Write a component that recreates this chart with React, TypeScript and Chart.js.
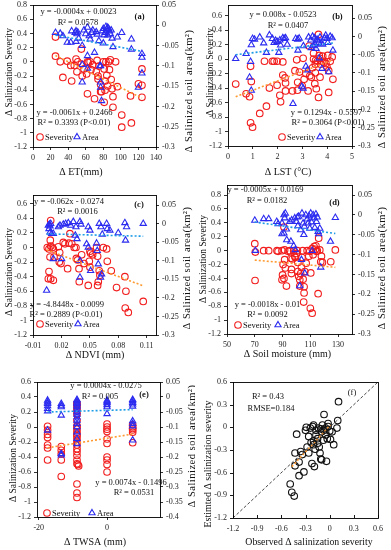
import React, { useEffect, useRef } from "react";
import { Chart, registerables } from "chart.js";
Chart.register(...registerables);

type P = [number, number];

// ---------------- DATA ----------------
// (a) ΔET
const etSeverity: P[] = [[25.6,0.35],[25.6,0.08],[31,0],[34,-0.22],[39,0.01],[43,-0.05],[44,-0.27],[47,-0.05],[49,0.04],[50,-0.14],[51,0],[55,0.18],[55,-0.03],[56,-0.2],[58,-0.1],[61,-0.17],[62,-0.45],[62,0],[63,-0.01],[65,0],[66,-0.11],[68,-0.04],[70,-0.52],[72,-0.14],[73,0.02],[74,-0.2],[74,-0.24],[75,-0.06],[77,-0.42],[77,-0.32],[78,-0.42],[80,0],[81,-0.1],[82,-0.27],[82,-0.4],[81,-0.57],[83,0],[84,-0.19],[85,-0.34],[86,0],[87,-0.11],[88,0.03],[89,-0.25],[90,-0.38],[91,-0.49],[91,-0.64],[94,0],[96,-0.35],[101,-0.75],[101,-0.92],[112,-0.86],[111,-0.48],[120,-0.31],[124,-0.33],[124,-0.1],[124,-0.5]];
const etArea: P[] = [[25.6,-0.018],[31,-0.02],[34,-0.026],[39,-0.042],[43,-0.042],[44,-0.014],[48,-0.018],[49,-0.04],[49,-0.014],[50,-0.021],[51,-0.017],[52,-0.032],[56,-0.05],[56,-0.097],[56,-0.14],[58,-0.012],[60,-0.021],[62,-0.075],[62,-0.106],[62,-0.005],[64,-0.026],[65,-0.034],[67,-0.018],[68,-0.012],[70,-0.067],[72,-0.016],[73,-0.022],[75,-0.038],[76,-0.1],[77,-0.14],[77,-0.153],[78,-0.186],[79,-0.014],[80,-0.044],[80,-0.008],[81,-0.024],[82,-0.018],[83,-0.003],[84,-0.01],[85,-0.024],[85,-0.005],[86,-0.008],[87,-0.014],[88,-0.021],[89,-0.012],[90,-0.032],[91,-0.053],[96,-0.029],[101,-0.018],[112,-0.034],[112,-0.059],[120,-0.153],[124,-0.07],[124,-0.079],[124,-0.118],[77,-0.1]];
const etSevFit: P[] = [[25.6,0.09],[124,-0.51]];
const etAreaFit: P[] = [[25.6,-0.024],[124,-0.064]];

// (b) ΔLST
const lstSeverity: P[] = [[0.31,-0.345],[0.73,-0.48],[0.87,-0.52],[0.91,-0.1],[0.94,-0.31],[0.91,-0.88],[0.99,-0.94],[1.28,-0.75],[1.47,-0.03],[1.55,-0.65],[1.67,-0.4],[1.79,-0.03],[1.86,-0.03],[1.98,-0.03],[1.98,-0.36],[2.09,-0.5],[2.12,-0.59],[2.21,-0.04],[2.21,-0.22],[2.3,-0.26],[2.32,-0.44],[2.32,-0.33],[2.6,-0.44],[2.7,-0.16],[2.77,-0.01],[2.81,-0.32],[2.8,-0.43],[2.88,-0.18],[2.99,-0.37],[3.03,0.01],[3.07,-0.28],[3.14,-0.2],[3.23,-0.44],[3.3,-0.23],[3.27,0.18],[3.36,-0.25],[3.41,-0.12],[3.45,0],[3.45,0.08],[3.5,-0.34],[3.52,-0.19],[3.52,-0.07],[3.56,-0.41],[3.61,-0.03],[3.65,0.34],[3.65,-0.53],[3.68,0.05],[3.71,-0.25],[3.74,-0.07],[3.79,-0.03],[3.87,-0.05],[3.95,-0.06],[3.99,-0.11],[4.02,0.05],[4.06,-0.16],[4.06,-0.46],[4.12,-0.03],[4.2,0.03],[4.23,-0.28],[3.82,0.04],[3.53,-0.02],[3.7,0.01]];
const lstArea: P[] = [[0.31,-0.061],[0.73,-0.047],[0.91,-0.069],[0.87,-0.112],[0.94,-0.148],[0.94,-0.023],[0.99,-0.006],[1.07,-0.008],[1.28,-0.002],[1.44,-0.018],[1.55,-0.044],[1.67,0.004],[1.79,-0.006],[1.86,-0.017],[1.92,-0.011],[1.98,-0.014],[2.05,-0.044],[2.09,-0.01],[2.12,-0.024],[2.21,-0.004],[2.27,-0.006],[2.32,-0.004],[2.39,-0.022],[2.62,-0.184],[2.73,-0.006],[2.81,-0.008],[2.87,-0.005],[2.82,-0.038],[2.98,-0.137],[3.03,-0.142],[3.04,-0.026],[3.14,-0.082],[3.2,-0.092],[3.25,-0.002],[3.34,-0.01],[3.36,-0.031],[3.41,0],[3.44,-0.026],[3.49,-0.004],[3.52,-0.022],[3.55,-0.033],[3.59,-0.008],[3.63,-0.011],[3.65,-0.017],[3.68,-0.059],[3.71,-0.002],[3.75,-0.019],[3.79,-0.088],[3.89,-0.004],[3.94,0.003],[3.99,-0.006],[4.02,-0.017],[4.06,-0.097],[4.12,0],[4.2,-0.004],[4.23,-0.038],[3.82,-0.022]];
const lstSevFit: P[] = [[0.31,-0.52],[4.23,-0.012]];
const lstAreaFit: P[] = [[0.31,-0.05],[4.23,-0.018]];

// (c) ΔNDVI
const ndviSeverity: P[] = [[0.0087,0.37],[0.0083,0.1],[0.0051,0],[0.0069,-0.02],[0.0087,0.02],[0.0104,0],[0.0115,-0.02],[0.008,-0.13],[0.0122,-0.13],[0.0182,-0.07],[0.0178,-0.2],[0.0069,-0.33],[0.0062,-0.43],[0.0087,-0.43],[0.0115,-0.45],[0.0168,0.01],[0.022,0.07],[0.0266,-0.29],[0.029,0.19],[0.0238,0.05],[0.028,0.06],[0.031,0.05],[0.0336,0],[0.0354,0],[0.0358,-0.15],[0.0372,-0.17],[0.0386,-0.29],[0.0389,-0.47],[0.0414,-0.1],[0.0484,-0.52],[0.0495,-0.19],[0.0502,-0.27],[0.0509,-0.08],[0.0502,-0.05],[0.0572,0],[0.0583,-0.12],[0.0583,-0.52],[0.059,-0.47],[0.06,-0.32],[0.0607,-0.38],[0.0643,0],[0.0678,-0.02],[0.0685,-0.19],[0.0727,-0.32],[0.0783,-0.55],[0.0871,-0.4],[0.0882,-0.6],[0.0875,-0.83],[0.0907,-0.89],[0.1065,-0.74],[0.0195,-0.22],[0.044,-0.22],[0.053,-0.1]];
const ndviArea: P[] = [[0.0044,-0.18],[0.0062,-0.005],[0.0073,-0.002],[0.008,-0.007],[0.0087,0],[0.0069,-0.014],[0.008,-0.023],[0.0097,-0.027],[0.0115,-0.027],[0.0115,-0.095],[0.0203,-0.095],[0.0168,-0.009],[0.0185,-0.005],[0.022,-0.002],[0.0245,0],[0.0273,0.002],[0.0298,-0.005],[0.0326,0.005],[0.0354,-0.009],[0.0396,0.005],[0.0407,-0.002],[0.0347,-0.032],[0.0365,-0.041],[0.0396,-0.145],[0.0396,-0.1],[0.0484,-0.009],[0.0502,-0.018],[0.0467,-0.055],[0.0484,-0.064],[0.0509,-0.127],[0.0572,-0.053],[0.0579,-0.073],[0.059,-0.109],[0.06,0],[0.0618,-0.009],[0.0632,-0.029],[0.0625,-0.136],[0.0614,-0.145],[0.0678,0],[0.0685,-0.014],[0.0713,-0.018],[0.0801,-0.025],[0.0871,0.002],[0.0878,-0.045],[0.0889,-0.009],[0.1065,0]];
const ndviSevFit: P[] = [[0.0044,-0.031],[0.1065,-0.526]];
const ndviAreaFit: P[] = [[0.0044,-0.0277],[0.1065,-0.034]];

// (d) ΔSoil moisture
const smSeverity: P[] = [[70,0.1],[70.4,-0.02],[70.2,-0.43],[76.4,0],[80,0],[86,0],[86.8,-0.01],[89.6,0],[91.5,0.01],[91.5,-0.13],[90.4,-0.2],[90,-0.35],[89.6,-0.42],[91,-0.4],[92,-0.25],[92.8,-0.51],[94,-0.01],[95.2,0],[96,-0.11],[96.4,-0.27],[96.4,-0.33],[97,-0.12],[98,0],[98.8,-0.08],[99.2,-0.1],[100,-0.04],[100.7,0],[101,-0.17],[101,-0.3],[101.6,-0.37],[102.4,-0.42],[102.4,-0.51],[103,-0.33],[103.6,-0.24],[104,-0.1],[104.5,0],[104.8,-0.41],[105.5,-0.52],[106,-0.3],[105.5,-0.61],[105.2,-0.74],[107,-0.18],[107.7,0],[108.9,-0.08],[109.6,-0.01],[110.3,-0.32],[110,-0.83],[111.3,-0.9],[111.3,0.03],[112,-0.06],[112.7,0.06],[113.7,0.02],[114,0.07],[114.4,-0.01],[115,0],[115.6,-0.62],[116,0.18],[116.8,0.01],[117.5,-0.16],[118.7,-0.17],[124.7,-0.16],[128,0.01],[118,-0.08],[91,0.34]];
const smArea: P[] = [[70,-0.014],[70.4,-0.09],[76.4,-0.01],[80,-0.01],[85.8,-0.017],[86.8,-0.023],[89.6,-0.021],[89.6,-0.048],[91,0],[91.5,-0.008],[92,0.004],[92.8,-0.036],[93,-0.063],[91,-0.046],[95.2,-0.017],[96,-0.067],[96.6,-0.013],[98,-0.078],[98.8,-0.008],[99.2,-0.088],[100,-0.017],[100.7,-0.006],[101,-0.028],[101.6,-0.004],[102.4,-0.179],[103,-0.038],[103.6,-0.113],[104,0.004],[104.8,-0.021],[105.3,-0.05],[105.7,-0.029],[106,-0.147],[106.7,0],[107.7,-0.011],[108.4,-0.021],[109,-0.003],[109.6,-0.034],[110.3,0.004],[110.8,-0.018],[111.3,-0.09],[112,0],[112.7,-0.008],[113.2,-0.032],[114,0.002],[114.4,-0.017],[115,-0.006],[115.6,-0.042],[116,-0.048],[116.8,-0.034],[117.5,-0.132],[124.5,-0.067],[128,-0.007]];
const smSevFit: P[] = [[70,-0.136],[128,-0.24]];
const smAreaFit: P[] = [[70,-0.018],[128,-0.047]];

// (e) ΔTWSA
const twsaSeverity: P[] = [[-17.4,0.01],[-17.4,-0.04],[-17.4,-0.1],[-17.4,-0.14],[-17.4,-0.24],[-17.4,-0.28],[-17.4,-0.44],[-13.4,-0.26],[-13.4,-0.31],[-13.4,-0.36],[-13.4,-0.44],[-13.4,-0.66],[-8.8,0.32],[-8.8,0.3],[-8.8,0.28],[-8.8,0.24],[-8.8,0.21],[-8.8,0.17],[-8.8,0.09],[-8.8,0.02],[-8.8,0],[-8.8,-0.03],[-8.8,-0.07],[-8.8,-0.1],[-8.8,-0.12],[-8.8,-0.16],[-8.8,-0.2],[-8.8,-0.24],[-8.8,-0.29],[-8.8,-0.33],[-8.8,-0.38],[-8.8,-0.44],[-8.8,-0.49],[-8.5,-0.5],[-8.3,-0.52],[-8.8,-0.76],[-8.8,-0.88],[-8.8,-0.94],[0,0.04],[0,0],[0,-0.03],[0,-0.06],[0,-0.16],[0,-0.22],[0,-0.4],[0,-0.44],[0,-0.5],[0,-0.6],[7.5,0.03],[7.5,0],[7.5,-0.02],[7.5,-0.04],[7.5,-0.07],[7.5,-0.21]];
const twsaArea: P[] = [[-17.4,-0.011],[-17.4,-0.017],[-17.4,-0.022],[-17.4,-0.03],[-17.4,-0.039],[-17.4,-0.047],[-17.4,-0.111],[-13.4,-0.022],[-13.4,-0.028],[-13.4,-0.033],[-13.4,-0.061],[-13.4,-0.189],[-13.4,-0.194],[-8.8,-0.009],[-8.8,-0.013],[-8.8,-0.018],[-8.8,-0.022],[-8.8,-0.028],[-8.8,-0.033],[-8.8,-0.042],[-8.8,-0.05],[-8.8,-0.058],[-8.8,-0.067],[-8.8,-0.078],[-8.8,-0.089],[-8.8,-0.1],[-8.8,-0.117],[-8.8,-0.139],[-8.8,-0.156],[0,-0.011],[0,-0.016],[0,-0.02],[0,-0.026],[0,-0.033],[0,-0.056],[7.5,-0.009],[7.5,-0.013],[7.5,-0.019],[7.5,-0.024],[7.5,-0.031],[7.5,-0.08],[7.5,-0.089],[7.5,-0.097],[7.5,-0.144]];
const twsaSevFit: P[] = [[-17.4,-0.278],[7.5,-0.094]];
const twsaAreaFit: P[] = [[-17.4,-0.05],[7.5,-0.042]];

// (f) observed vs estimated
const obsEst: P[] = [[-0.49,-0.75],[-0.47,-0.86],[-0.44,-0.91],[-0.43,-0.51],[-0.43,-0.34],[-0.41,-0.09],[-0.38,-0.46],[-0.38,-0.64],[-0.36,-0.32],[-0.34,-0.36],[-0.32,-0.59],[-0.3,-0.04],[-0.29,0],[-0.28,-0.26],[-0.26,-0.34],[-0.26,-0.12],[-0.24,-0.01],[-0.23,-0.2],[-0.22,-0.48],[-0.21,0.01],[-0.2,-0.18],[-0.2,0.03],[-0.19,-0.52],[-0.18,-0.29],[-0.17,-0.1],[-0.17,-0.04],[-0.15,-0.21],[-0.14,-0.01],[-0.13,-0.26],[-0.12,-0.34],[-0.11,-0.42],[-0.1,-0.06],[-0.1,-0.43],[-0.09,0.03],[-0.08,-0.17],[-0.07,0.17],[-0.07,-0.04],[-0.05,-0.1],[-0.05,-0.01],[-0.04,-0.45],[-0.03,-0.15],[-0.02,0.05],[-0.02,0.01],[0,-0.05],[0.01,-0.16],[0.03,-0.06],[0.05,-0.23],[0.09,-0.01],[0.1,0.09],[0.11,0.34],[-0.15,-0.15],[-0.2,-0.23],[-0.11,-0.02]];
const obsEstFit: P[] = [[-0.47,-0.52],[0.01,0.03]];
const oneToOne: P[] = [[-1.2,-1.2],[0.6,0.6]];

// tick values
const ticksSev8 = [-1.2,-1,-0.8,-0.6,-0.4,-0.2,0,0.2,0.4,0.6,0.8];
const ticksSev6 = [-1.2,-1,-0.8,-0.6,-0.4,-0.2,0,0.2,0.4,0.6];
const ticksArea3 = [-0.3,-0.25,-0.2,-0.15,-0.1,-0.05,0,0.05];
const ticksArea4 = [-0.4,-0.35,-0.3,-0.25,-0.2,-0.15,-0.1,-0.05,0,0.05];
const ticksET = [0,20,40,60,80,100,120,140];
const ticksLST = [0,1,2,3,4,5];
const ticksNDVI = [-0.01,0.02,0.05,0.08,0.11];
const ticksSM = [50,70,90,110,130];
const ticksTWSA = [-20,0];
const ticksObs = [-1.2,-0.9,-0.6,-0.3,0,0.3,0.6];

// ---------------- RENDERING ----------------
const FONT = "'Liberation Serif', 'Times New Roman', serif";
const RED = "#f21d1d";
const BLUE = "#2b2bf0";
const ORANGE = "#ff9a30";
const LBLUE = "#1c9be6";

interface Txt { t: string; x: number; y: number; bold?: boolean }
interface AxisCfg { min: number; max: number; ticks: number[] }
interface PanelCfg {
  pos: { left: number; top: number; w: number; h: number };
  area: { l: number; t: number; r: number; b: number };
  x: AxisCfg; y: AxisCfg; y2?: AxisCfg;
  xTitle: { t: string; x: number; y: number; size?: number };
  yTitle: { t: string; x: number; cy: number; size?: number };
  y2Title?: { t: string; x: number; cy: number };
  texts: Txt[];
  legend?: { y: number; c1: number; c2: number };
  datasets: any[];
  inwardTicks?: boolean;
}

const fmt = (v: number) => String(Math.round(v * 1000) / 1000);

function makeAxis(a: AxisCfg, extra: any) {
  return {
    type: "linear",
    min: a.min,
    max: a.max,
    afterBuildTicks: (s: any) => { s.ticks = a.ticks.map((v) => ({ value: v })); },
    ticks: {
      autoSkip: false, maxRotation: 0, minRotation: 0, padding: 3,
      font: { family: FONT, size: 8 }, color: "#222",
      callback: (v: any) => fmt(Number(v)),
    },
    grid: { display: true, drawOnChartArea: false, drawTicks: true, tickLength: 3, color: "#000", lineWidth: 0.8 },
    border: { display: false },
    ...extra,
  };
}

function scatterSet(data: P[], color: string, style: string, axis: string) {
  return {
    data: data.map(([x, y]) => ({ x, y })),
    yAxisID: axis,
    pointStyle: style,
    pointRadius: style === "triangle" ? 3.6 : 3.3,
    pointBorderWidth: 1.1,
    borderColor: color,
    backgroundColor: "rgba(0,0,0,0)",
    showLine: false,
  };
}
function lineSet(data: P[], color: string, axis: string, dash: number[], width = 1.6) {
  return {
    data: data.map(([x, y]) => ({ x, y })),
    yAxisID: axis,
    showLine: true,
    pointRadius: 0,
    borderColor: color,
    borderWidth: width,
    borderDash: dash,
    fill: false,
  };
}

function decorPlugin(cfg: PanelCfg) {
  return {
    id: "decor",
    afterDraw(chart: any) {
      const ctx: CanvasRenderingContext2D = chart.ctx;
      const a = chart.chartArea;
      ctx.save();
      ctx.strokeStyle = "#000";
      ctx.lineWidth = 0.9;
      ctx.strokeRect(Math.round(a.left) + 0.5, Math.round(a.top) + 0.5, Math.round(a.right - a.left), Math.round(a.bottom - a.top));
      if (cfg.inwardTicks) {
        const sx = chart.scales.x, sy = chart.scales.y;
        ctx.beginPath();
        for (const v of cfg.x.ticks) {
          const px = Math.round(sx.getPixelForValue(v)) + 0.5;
          ctx.moveTo(px, a.bottom); ctx.lineTo(px, a.bottom - 3);
        }
        for (const v of cfg.y.ticks) {
          const py = Math.round(sy.getPixelForValue(v)) + 0.5;
          ctx.moveTo(a.left, py); ctx.lineTo(a.left - 3, py);
        }
        ctx.stroke();
      }
      ctx.fillStyle = "#111";
      ctx.textBaseline = "middle";
      ctx.textAlign = "center";
      for (const t of cfg.texts) {
        ctx.font = `${t.bold ? "bold " : ""}8.5px ${FONT}`;
        ctx.fillText(t.t, t.x, t.y);
      }
      // axis titles
      ctx.font = `${cfg.xTitle.size || 10}px ${FONT}`;
      ctx.fillText(cfg.xTitle.t, cfg.xTitle.x, cfg.xTitle.y);
      ctx.save();
      ctx.font = `${cfg.yTitle.size || 9.5}px ${FONT}`;
      ctx.translate(cfg.yTitle.x, cfg.yTitle.cy);
      ctx.rotate(-Math.PI / 2);
      ctx.fillText(cfg.yTitle.t, 0, 0);
      ctx.restore();
      if (cfg.y2Title) {
        ctx.save();
        ctx.font = `10.5px ${FONT}`;
        (ctx as any).letterSpacing = "0.5px";
        ctx.translate(cfg.y2Title.x, cfg.y2Title.cy);
        ctx.rotate(-Math.PI / 2);
        ctx.fillText(cfg.y2Title.t, 0, 0);
        ctx.restore();
      }
      // legend
      if (cfg.legend) {
        const { y, c1, c2 } = cfg.legend;
        ctx.lineWidth = 1.1;
        ctx.strokeStyle = RED;
        ctx.beginPath(); ctx.arc(c1, y, 3.3, 0, Math.PI * 2); ctx.stroke();
        ctx.strokeStyle = BLUE;
        const r = 3.6;
        ctx.beginPath();
        for (let i = 0; i < 3; i++) {
          const ang = i * (2 * Math.PI / 3);
          const px = c2 + Math.sin(ang) * r, py = y - Math.cos(ang) * r;
          if (i === 0) ctx.moveTo(px, py); else ctx.lineTo(px, py);
        }
        ctx.closePath(); ctx.stroke();
        ctx.font = `8.5px ${FONT}`;
        ctx.textAlign = "left";
        ctx.fillStyle = "#111";
        ctx.fillText("Severity", c1 + 5, y + 0.5);
        ctx.fillText("Area", c2 + 5, y + 0.5);
      }
      ctx.restore();
    },
  };
}

function buildConfig(cfg: PanelCfg): any {
  const { w, h } = cfg.pos;
  const ar = cfg.area;
  const scales: any = {
    x: makeAxis(cfg.x, {
      position: "bottom",
      afterFit: (s: any) => { s.height = h - ar.b; s.paddingLeft = 0; s.paddingRight = 0; },
    }),
    y: makeAxis(cfg.y, {
      position: "left",
      afterFit: (s: any) => { s.width = ar.l; s.paddingTop = 0; s.paddingBottom = 0; },
    }),
  };
  if (cfg.inwardTicks) {
    scales.x.grid.drawTicks = false;
    scales.y.grid.drawTicks = false;
    scales.x.ticks.padding = 6;
    scales.y.ticks.padding = 6;
  }
  if (cfg.y2) {
    scales.y2 = makeAxis(cfg.y2, {
      position: "right",
      afterFit: (s: any) => { s.width = w - ar.r; s.paddingTop = 0; s.paddingBottom = 0; },
    });
  }
  return {
    type: "scatter",
    data: { datasets: cfg.datasets },
    options: {
      responsive: false,
      animation: false,
      devicePixelRatio: 1,
      layout: { padding: { left: 0, top: ar.t, right: cfg.y2 ? 0 : w - ar.r, bottom: 0 } },
      plugins: { legend: { display: false }, tooltip: { enabled: false } },
      events: [],
      scales,
    },
    plugins: [decorPlugin(cfg)],
  };
}

function Panel({ cfg }: { cfg: PanelCfg }) {
  const ref = useRef<HTMLCanvasElement>(null);
  useEffect(() => {
    const chart = new Chart(ref.current as HTMLCanvasElement, buildConfig(cfg));
    return () => chart.destroy();
  }, []);
  const { left, top, w, h } = cfg.pos;
  return (
    <canvas ref={ref} width={w} height={h}
      style={{ position: "absolute", left, top, width: w, height: h }} />
  );
}

const SEV_T = "Δ Salinization Severity";
const AREA_T = "Δ Salinized soil area(km²)";

function sevAreaSets(sev: P[], area: P[], sevFit: P[], areaFit: P[]) {
  return [
    lineSet(areaFit, LBLUE, "y2", [2, 2]),
    lineSet(sevFit, ORANGE, "y", [2, 2]),
    scatterSet(area, BLUE, "triangle", "y2"),
    scatterSet(sev, RED, "circle", "y"),
  ];
}

const panels: PanelCfg[] = [
  {
    pos: { left: 0, top: 0, w: 195, h: 180 },
    area: { l: 33, t: 4, r: 156, b: 147 },
    x: { min: 0, max: 140, ticks: ticksET },
    y: { min: -1.2, max: 0.8, ticks: ticksSev8 },
    y2: { min: -0.3, max: 0.05, ticks: ticksArea3 },
    xTitle: { t: "Δ ET(mm)", x: 81, y: 172 },
    yTitle: { t: SEV_T, x: 9, cy: 72 },
    y2Title: { t: AREA_T, x: 189, cy: 91 },
    texts: [
      { t: "y = -0.0004x + 0.0023", x: 78.5, y: 12 },
      { t: "R² = 0.0578", x: 78, y: 23 },
      { t: "(a)", x: 139.5, y: 17, bold: true },
      { t: "y = -0.0061x + 0.2466", x: 74.5, y: 113 },
      { t: "R² = 0.3393 (P<0.01)", x: 74, y: 123 },
    ],
    legend: { y: 137, c1: 40, c2: 77 },
    datasets: sevAreaSets(etSeverity, etArea, etSevFit, etAreaFit),
  },
  {
    pos: { left: 195, top: 0, w: 196, h: 180 },
    area: { l: 33, t: 3, r: 157, b: 146 },
    x: { min: 0, max: 5, ticks: ticksLST },
    y: { min: -1.2, max: 0.745, ticks: ticksSev6 },
    y2: { min: -0.3, max: 0.086, ticks: ticksArea3 },
    xTitle: { t: "Δ LST (°C)", x: 93, y: 172 },
    yTitle: { t: SEV_T, x: 15, cy: 72 },
    y2Title: { t: AREA_T, x: 187, cy: 87 },
    texts: [
      { t: "y = 0.008x - 0.0523", x: 88, y: 15 },
      { t: "R² = 0.0407", x: 93, y: 26 },
      { t: "(b)", x: 142.5, y: 17, bold: true },
      { t: "y = 0.1294x - 0.5597", x: 131.5, y: 113 },
      { t: "R² = 0.3064 (P<0.01)", x: 133, y: 123 },
    ],
    legend: { y: 137, c1: 87, c2: 125 },
    datasets: sevAreaSets(lstSeverity, lstArea, lstSevFit, lstAreaFit),
  },
  {
    pos: { left: 0, top: 180, w: 195, h: 180 },
    area: { l: 33, t: 15, r: 156, b: 155 },
    x: { min: -0.01, max: 0.12, ticks: ticksNDVI },
    y: { min: -1.2, max: 0.72, ticks: ticksSev6 },
    y2: { min: -0.3, max: 0.077, ticks: ticksArea3 },
    xTitle: { t: "Δ NDVI (mm)", x: 95, y: 175 },
    yTitle: { t: SEV_T, x: 9, cy: 92 },
    y2Title: { t: AREA_T, x: 187, cy: 88 },
    texts: [
      { t: "y = -0.062x - 0.0274", x: 69, y: 22 },
      { t: "R² = 0.0016", x: 77.5, y: 32 },
      { t: "(c)", x: 139, y: 25, bold: true },
      { t: "y = -4.8448x - 0.0099", x: 67, y: 125 },
      { t: "R² = 0.2889 (P<0.01)", x: 66, y: 135 },
    ],
    legend: { y: 144, c1: 40, c2: 78 },
    datasets: sevAreaSets(ndviSeverity, ndviArea, ndviSevFit, ndviAreaFit),
  },
  {
    pos: { left: 195, top: 180, w: 196, h: 180 },
    area: { l: 32, t: 5, r: 157, b: 154 },
    x: { min: 50, max: 140, ticks: ticksSM },
    y: { min: -1.2, max: 0.944, ticks: ticksSev8 },
    y2: { min: -0.3, max: 0.075, ticks: ticksArea3 },
    xTitle: { t: "Δ Soil moisture (mm)", x: 92.5, y: 174 },
    yTitle: { t: SEV_T, x: 8, cy: 79 },
    y2Title: { t: AREA_T, x: 187, cy: 88 },
    texts: [
      { t: "y = -0.0005x + 0.0169", x: 70.5, y: 10 },
      { t: "R² = 0.0182", x: 72, y: 21 },
      { t: "(d)", x: 139.5, y: 23, bold: true },
      { t: "y = -0.0018x - 0.01", x: 72.5, y: 125 },
      { t: "R² = 0.0092", x: 72.5, y: 135 },
    ],
    legend: { y: 145, c1: 43, c2: 83 },
    datasets: sevAreaSets(smSeverity, smArea, smSevFit, smAreaFit),
  },
  {
    pos: { left: 0, top: 360, w: 195, h: 190 },
    area: { l: 37, t: 22, r: 160, b: 157 },
    x: { min: -20.5, max: 15.5, ticks: ticksTWSA },
    y: { min: -1.2, max: 0.6, ticks: ticksSev6 },
    y2: { min: -0.4, max: 0.05, ticks: ticksArea4 },
    xTitle: { t: "Δ TWSA (mm)", x: 95, y: 182 },
    yTitle: { t: SEV_T, x: 13, cy: 98 },
    y2Title: { t: AREA_T, x: 192, cy: 86 },
    texts: [
      { t: "y = 0.0004x - 0.0275", x: 106, y: 26 },
      { t: "R² = 0.005", x: 100, y: 37 },
      { t: "(e)", x: 144, y: 35, bold: true },
      { t: "y = 0.0074x - 0.1496", x: 131, y: 123 },
      { t: "R² = 0.0531", x: 134, y: 133 },
    ],
    legend: { y: 153, c1: 47, c2: 92 },
    datasets: sevAreaSets(twsaSeverity, twsaArea, twsaSevFit, twsaAreaFit),
  },
  {
    pos: { left: 195, top: 360, w: 196, h: 190 },
    area: { l: 38, t: 22, r: 183, b: 158 },
    x: { min: -1.2, max: 0.6, ticks: ticksObs },
    y: { min: -1.2, max: 0.6, ticks: ticksObs },
    xTitle: { t: "Observed Δ salinization severity", x: 114, y: 182, size: 9.8 },
    yTitle: { t: "Estimted Δ salinization severity", x: 13, cy: 104, size: 10 },
    texts: [
      { t: "R² = 0.43", x: 73, y: 37 },
      { t: "RMSE=0.184", x: 76, y: 49 },
      { t: "(f)", x: 157, y: 33 },
    ],
    inwardTicks: true,
    datasets: [
      lineSet(oneToOne, "#333", "y", [3, 2], 0.9),
      lineSet(obsEstFit, ORANGE, "y", [2, 2]),
      scatterSet(obsEst, "#111", "circle", "y"),
    ],
  },
];

export default function App() {
  return (
    <div style={{ position: "absolute", left: 0, top: 0, width: 391, height: 550, background: "#fff" }}>
      {panels.map((p, i) => <Panel key={i} cfg={p} />)}
    </div>
  );
}
